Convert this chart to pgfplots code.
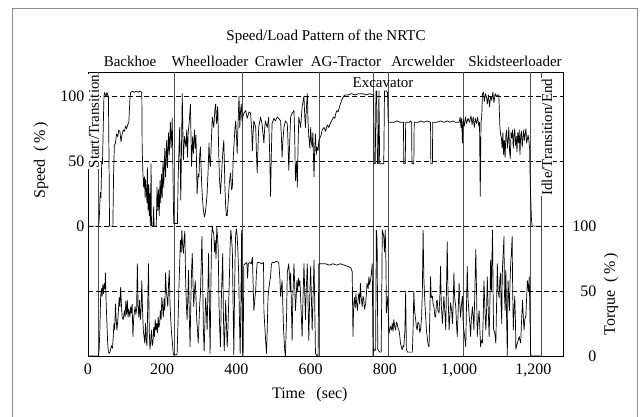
\documentclass[border=0pt]{standalone}
\usepackage{fontspec}
\setmainfont{Liberation Serif}
\usepackage{pgfplots}
\pgfplotsset{compat=1.18}

\newcommand\lbl{\fontsize{15}{18}\selectfont}
\newcommand\tlbl{\fontsize{16}{19}\selectfont}

\tikzset{dashgrid/.style={dash pattern=on 5pt off 3pt, line width=0.6pt, black}}
\pgfplotsset{
  nrtc/.style={
    at={(0pt,0pt)}, anchor=south west,
    scale only axis, width=475pt, height=284pt,
    xmin=0, xmax=1280,
    major tick length=0pt,
    tick label style={font=\tlbl},
    /pgf/number format/assume math mode=true,
    axis line style={line width=0.8pt},
  },
}

\begin{document}
\begin{tikzpicture}
\useasboundingbox (-88pt,-61pt) rectangle (554pt,356pt);
% scanned page frame
\draw[black!45, line width=0.9pt] (-76pt,-80pt) -- (-76pt,348pt) -- (549pt,348pt) -- (549pt,-80pt);

% speed (upper part)
\begin{axis}[nrtc,
  ymin=-100, ymax=118.7,
  xtick={0,200,...,1200},
  xticklabel style={yshift=-4pt},
  ytick={0,50,100},
  ymajorgrids,
  major grid style={dashgrid},
  extra x ticks={27,233,417,624,770,809,1011,1192,1222},
  extra x tick labels={},
  extra x tick style={grid=major, major grid style={solid, black!70, line width=0.6pt}},
  xlabel={Time\hspace{0.7em}(sec)},
  xlabel style={font=\tlbl, at={(axis description cs:0.467,-0.137)}, anchor=center},
  ylabel={Speed\hspace{0.5em}(\,\%\,)},
  every axis y label/.style={font=\tlbl, at={(axis description cs:-0.099,0.69)}, rotate=90, anchor=center},
]
\addplot[black, line width=0.7pt, line join=round] coordinates {
(0,0) (29,0) (31,10) (33,26) (35,22) (37,50) (39,48) (41,75) (43,100) (45,103) (47,101) (49,100) (51,103) (53,101) (55,100) (57,40) (58,0) (67,0)
(69,40) (71,62) (74,64) (77,71) (80,69) (83,74) (86,73) (89,65) (92,71) (95,74) (98,73) (101,77) (104,75) (107,78) (110,80) (113,98)
(115,103) (120,104) (125,103) (130,104) (135,103) (140,104) (145,103) (146,60) (148,40) (150,30) (152,38) (154,22) (155,36) (157,28)
(159,18) (160,45) (162,12) (164,32) (165,8) (167,25) (168,0) (170,48) (171,0) (175,0) (177,15) (178,0) (184,0) (186,30) (188,12)
(190,28) (192,8) (194,35) (196,18) (198,40) (200,22) (202,50) (204,30) (207,60) (209,38) (212,66) (214,45) (217,72) (219,55) (222,80)
(224,60) (227,83) (229,40) (231,2) (241,2)
(243,38) (247,76) (250,20) (254,102) (257,51) (260,69) (264,61) (266,74) (268,53) (270,72) (273,81) (276,94) (279,46) (282,69) (284,56)
(287,74) (289,60) (291,70) (294,25) (297,40) (299,38) (301,55) (303,61) (306,35) (308,23) (311,12) (314,7) (316,10) (318,15) (321,25)
(324,45) (326,64) (328,50) (330,46) (333,70) (335,84) (337,80) (339,76) (342,90) (344,94) (346,80) (347,79) (349,92) (350,89) (352,60)
(354,38) (357,25) (360,40) (362,51) (364,60) (366,66) (369,30) (371,15) (373,8) (375,8) (378,20) (380,30) (382,36) (384,41) (387,28)
(389,30) (391,50) (393,61) (396,75) (398,81) (400,70) (402,56) (405,85) (407,100) (409,76) (411,88) (413,94) (415,81) (417,84)
(420,87) (425,89) (429,83) (434,88) (438,87) (441,75) (443,58) (445,72) (447,81) (452,76) (454,55) (456,41) (458,60) (460,76) (465,84)
(469,79) (472,70) (474,64) (476,75) (478,81) (483,76) (487,84) (490,50) (492,23) (494,55) (496,79) (501,83) (505,81) (510,84) (514,83)
(519,81) (521,70) (523,53) (525,65) (528,76) (532,81) (537,79) (539,65) (541,43) (543,60) (546,84) (550,87) (555,89) (557,70) (559,35)
(562,50) (564,30) (566,60) (568,84) (573,76) (577,92) (582,100) (584,85) (586,76) (588,88) (591,102) (593,80) (595,69) (598,60) (600,76)
(602,65) (604,61) (606,72) (609,38) (611,60) (613,71) (615,55) (617,61) (620,58) (622,66)
(627,69) (631,74) (636,76) (640,73) (645,78) (649,76) (653,79) (658,82) (662,84) (665,83) (668,87) (671,89) (674,88) (676,90) (680,94)
(685,98) (689,100) (692,101) (700,101) (710,102) (720,101) (730,102) (740,102) (750,101) (760,102) (768,101)
(770,101) (771,48) (774,48) (776,104) (778,104) (780,48) (782,48) (784,104) (786,48) (797,48) (799,104) (804,104) (807,103) (809,80)
(815,80) (825,80) (833,81) (840,80) (850,80) (851,48) (855,48) (856,80) (866,80) (868,81) (872,80) (873,48) (878,48) (879,80) (890,80)
(897,81) (905,80) (915,81) (923,80) (924,48) (928,48) (929,80) (940,80) (950,81) (960,80) (968,81) (975,80) (983,81) (990,80) (1000,80)
(1003,84) (1005,76) (1007,83) (1009,64) (1011,82) (1014,77) (1017,84) (1020,79) (1024,83) (1028,80) (1032,85) (1035,78) (1038,84)
(1041,76) (1044,83) (1047,79) (1050,84) (1053,77) (1055,80) (1057,23) (1059,80) (1061,84) (1063,102)
(1066,103) (1068,96) (1071,102) (1074,99) (1076,94) (1079,101) (1082,92) (1085,100) (1088,97) (1091,103) (1094,95) (1097,102) (1100,100)
(1104,101) (1107,101) (1110,76) (1112,70) (1114,68) (1116,60) (1118,72) (1120,55) (1122,66) (1124,53) (1126,70) (1128,74) (1130,60)
(1132,66) (1134,76) (1136,58) (1138,52) (1140,72) (1142,68) (1144,74) (1146,60) (1148,70) (1150,75) (1152,62) (1154,69) (1156,57)
(1158,72) (1160,64) (1162,74) (1164,55) (1166,70) (1168,73) (1170,61) (1172,68) (1174,74) (1176,66) (1178,71) (1180,75) (1182,64)
(1184,67) (1186,70) (1188,66) (1190,60) (1192,30) (1195,5) (1197,0) (1222,0)
};
\end{axis}

% torque (lower part)
\begin{axis}[nrtc,
  ymin=0, ymax=218.7,
  axis x line=none, axis y line*=right,
  ytick={0,50,100},
  yticklabel style={anchor=east, xshift=37pt},
  extra y ticks={50}, extra y tick labels={},
  extra y tick style={grid=major, major grid style={dashgrid}},
  ylabel={Torque\hspace{0.5em}(\,\%\,)},
  every axis y label/.style={font=\tlbl, at={(axis description cs:1.101,0.218)}, rotate=90, anchor=center},
]
\addplot[black, line width=0.7pt, line join=round] coordinates {
(0,0) (28,0) (30,5) (32,20) (34,45) (36,52) (38,46) (40,55) (42,48) (44,56) (46,52) (47,64) (49,40) (51,25) (53,10) (55,3) (58,2)
(61,5) (63,8) (66,6) (68,15) (70,25) (72,20) (74,40) (76,28) (78,20) (81,30) (84,45) (86,38) (88,53) (90,40) (92,30) (95,28) (98,35)
(100,30) (102,42) (104,32) (106,43) (108,30) (110,36) (113,30) (115,38) (117,33) (119,40) (121,15) (123,28) (125,34) (127,38) (129,32)
(131,36) (133,71) (135,38) (137,30) (139,43) (141,28) (143,35) (145,58) (147,35) (149,20) (151,15) (153,10) (155,25) (157,12) (159,8)
(161,40) (163,71) (165,20) (167,5) (169,12) (171,20) (173,8) (175,10) (177,22) (179,15) (181,28) (183,20) (185,25) (187,18) (189,30)
(191,22) (193,25) (195,35) (197,28) (199,45) (201,38) (203,30) (205,44) (207,35) (209,64) (211,50) (213,45) (215,38) (217,55) (219,66)
(221,40) (223,28) (225,18) (227,12) (230,1) (240,1)
(243,30) (245,53) (247,70) (249,89) (251,80) (253,97) (255,85) (257,79) (259,90) (261,96) (263,60) (265,40) (267,28) (269,45) (271,66)
(273,30) (275,7) (277,40) (279,65) (281,79) (283,55) (285,38) (287,50) (289,58) (291,45) (293,28) (295,20) (297,10) (299,25) (301,40)
(303,48) (305,70) (307,92) (309,60) (311,20) (313,4) (315,25) (317,45) (319,35) (321,20) (323,50) (325,79) (327,40) (329,2) (331,50)
(333,90) (335,100) (337,96) (339,94) (341,80) (343,89) (345,75) (347,99) (349,92) (351,81) (353,40) (355,20) (357,7) (359,40) (361,60)
(363,79) (365,30) (367,4) (369,20) (371,43) (373,25) (375,7) (377,20) (379,40) (381,60) (383,85) (385,97) (387,90) (389,81) (391,40)
(393,1) (395,50) (397,85) (398,94) (400,98) (402,92) (404,80) (406,64) (408,30) (410,2) (412,40) (414,97) (416,10)
(418,0) (420,70) (423,71) (428,72) (430,60) (432,71) (436,72) (440,71) (443,76) (445,55) (447,35) (450,45) (452,51) (454,65) (456,72)
(462,72) (468,71) (473,72) (474,35) (476,25) (478,15) (481,2) (483,20) (485,45) (487,51) (490,58) (492,61) (494,70) (496,72) (502,72)
(508,73) (514,72) (517,60) (519,46) (521,52) (523,58) (525,40) (527,20) (528,15) (530,5) (532,0) (535,30) (537,64) (539,68) (541,71)
(543,60) (545,50) (546,64) (548,40) (550,12) (552,45) (555,71) (557,55) (559,35) (561,45) (563,58) (565,50) (567,60) (569,54) (571,58)
(573,45) (575,30) (577,15) (579,40) (582,71) (584,50) (586,28) (588,50) (591,71) (593,40) (595,12) (597,40) (600,69) (602,45) (604,20)
(606,40) (609,74) (611,40) (613,2) (618,0) (620,0)
(622,71) (630,71) (640,71) (650,70) (660,71) (670,70) (680,71) (690,70) (700,69) (708,68) (712,65) (714,15) (716,40) (718,45) (720,37)
(722,48) (724,40) (726,35) (728,45) (730,48) (732,40) (734,56) (736,45) (739,38) (741,46) (743,44) (745,36) (748,40) (750,47) (752,56)
(755,52) (757,61) (759,55) (761,58) (763,62) (766,71) (768,0)
(770,6) (772,4) (775,5) (777,97) (779,90) (781,5) (786,3) (790,3) (792,60) (793,97) (795,95) (797,92) (799,80) (801,97) (803,70)
(804,33) (806,40) (808,46) (811,17)
(815,23) (818,20) (820,25) (822,19) (824,28) (827,22) (829,20) (831,26) (833,25) (836,21) (838,20) (840,16) (842,10) (845,6) (847,5)
(849,8) (851,7) (854,20) (856,50) (858,5) (861,3) (865,3) (870,3) (874,3) (876,20) (878,50) (880,35) (883,28) (885,22) (887,20) (889,26)
(892,25) (894,18) (896,20) (899,30) (901,50) (903,97) (905,60) (907,46) (909,35) (912,20) (915,12) (917,8) (919,7) (921,30) (923,61)
(925,45) (928,46) (930,40) (932,38) (935,30) (937,30) (939,42) (941,43) (943,35) (946,33) (948,45) (950,69) (952,40) (955,25) (957,35)
(959,46) (962,32) (964,20) (966,50) (968,88) (970,50) (973,20) (975,30) (977,41) (980,35) (982,25) (984,40) (986,64) (988,45) (991,38)
(993,25) (995,15) (997,30) (1000,56) (1002,40) (1004,30) (1006,38) (1009,46) (1011,25) (1013,20)
(1016,12) (1018,7) (1020,40) (1022,69) (1024,45) (1027,31) (1029,25) (1031,15) (1033,28) (1036,38) (1038,30) (1040,20) (1042,45)
(1045,82) (1047,50) (1049,15) (1051,25) (1054,35) (1056,20) (1058,7) (1060,12) (1063,10) (1065,30) (1067,58) (1069,40) (1072,20)
(1074,35) (1076,61) (1078,40) (1081,15) (1083,40) (1085,74) (1087,50) (1090,97) (1092,40) (1093,20) (1096,18) (1099,10) (1101,40)
(1103,71) (1105,50) (1108,45) (1110,60) (1112,64) (1113,40) (1115,25) (1116,55) (1117,69) (1119,80) (1121,92) (1122,50) (1124,35)
(1125,60) (1126,66) (1128,30) (1130,0) (1131,40) (1132,58) (1134,45) (1136,35) (1137,55) (1139,71) (1141,80) (1143,92) (1144,60)
(1146,20) (1148,35) (1150,46) (1152,25) (1153,5) (1155,8) (1157,10) (1159,12) (1162,15) (1164,12) (1166,10) (1168,25) (1171,43)
(1173,30) (1175,20) (1177,28) (1180,31) (1182,45) (1184,58) (1187,50) (1189,61) (1191,30) (1193,0) (1222,0)
};
\end{axis}

% title and section labels
\node[font=\lbl, anchor=base] at (238pt,315pt) {Speed/Load Pattern of the NRTC};
\node[font=\lbl, anchor=base] at (42pt,289pt) {Backhoe};
\node[font=\lbl, anchor=base] at (122pt,289pt) {Wheelloader};
\node[font=\lbl, anchor=base] at (191pt,289pt) {Crawler};
\node[font=\lbl, anchor=base] at (258pt,289pt) {AG-Tractor};
\node[font=\lbl, anchor=base] at (335pt,289pt) {Arcwelder};
\node[font=\lbl, anchor=base] at (427pt,289pt) {Skidsteerloader};
\node[font=\lbl, anchor=base] at (295pt,268pt) {Excavator};
\node[font=\lbl, rotate=90, anchor=east, fill=white, inner sep=0.5pt] at (6pt,282pt) {Start/Transition};
\node[font=\lbl, rotate=90, anchor=east, fill=white, inner sep=0.5pt] at (459pt,278pt) {Idle/Transition/End};
\end{tikzpicture}
\end{document}
